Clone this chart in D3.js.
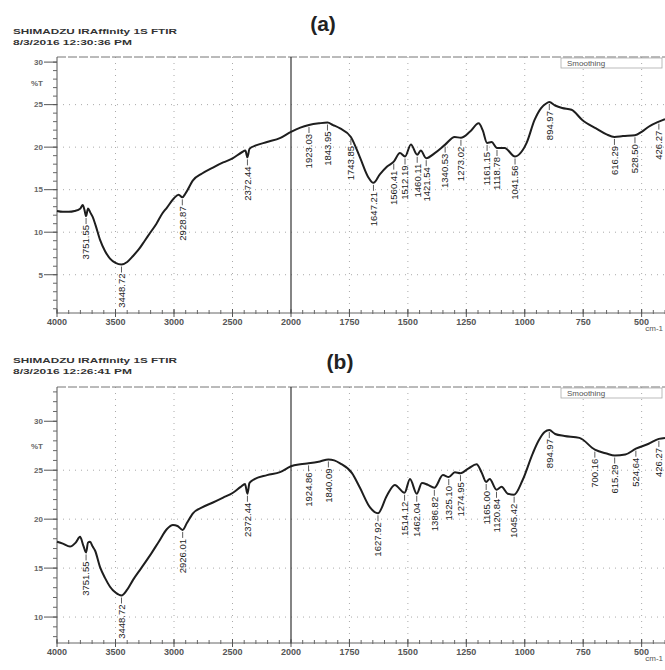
<!DOCTYPE html>
<html>
<head>
<meta charset="utf-8">
<script src="https://cdn.jsdelivr.net/npm/d3@7/dist/d3.min.js"></script>
<style>
body { margin: 0; background: #fff; }
svg text { font-family: "Liberation Sans", Arial, sans-serif; }
</style>
</head>
<body>
<svg id="chart" width="665" height="670"></svg>
<script>
// spectrum (a): [wavenumber cm-1, %T]
var spectrumA = [
    [4000,12.5],[3950,12.4],[3900,12.4],[3850,12.5],[3800,12.8],[3780,13.2],[3765,12.6],[3751.55,11.9],
    [3735,12.8],[3715,12.3],[3695,11.8],[3670,10.8],[3632,9.1],[3590,7.8],[3547,6.9],[3500,6.4],
    [3448.72,6.2],[3400,6.5],[3350,7.2],[3300,8.0],[3250,9.0],[3205,9.9],[3150,11.0],[3100,12.2],
    [3060,12.9],[3000,14.0],[2960,14.4],[2928.87,14.1],[2900,14.6],[2838,16.1],[2760,16.9],[2667,17.6],
    [2580,18.2],[2496,18.7],[2420,19.4],[2390,19.6],[2372.44,18.8],[2355,19.8],[2300,20.2],[2205,20.6],
    [2090,21.1],[2000,21.8],[1960,22.3],[1923.03,22.6],[1880,22.8],[1843.95,22.9],[1820,22.6],[1790,22.2],
    [1743.85,21.2],[1705,18.8],[1670,16.5],[1647.21,15.8],[1620,16.8],[1590,17.7],[1560.41,18.3],[1534,19.3],
    [1512.19,18.9],[1487,20.3],[1460.11,19.1],[1445,19.6],[1421.54,18.7],[1385,19.3],[1340.53,20.3],[1300,21.2],
    [1273.02,21.1],[1235,21.8],[1197,22.8],[1180,22.0],[1161.15,20.5],[1142,20.6],[1118.78,19.9],[1086,19.9],
    [1041.56,18.9],[1010,19.6],[992,20.5],[958,23.2],[930,24.6],[910,25.1],[894.97,25.3],[870,24.9],
    [840,24.6],[800,24.4],[754,23.2],[695,22.2],[650,21.5],[616.29,21.2],[580,21.3],[528.50,21.4],
    [500,21.8],[470,22.4],[426.27,23.0],[400,23.3]
]
var peaksA = [3751.55,3448.72,2928.87,2372.44,1923.03,1843.95,1743.85,1647.21,1560.41,1512.19,1460.11,
    1421.54,1340.53,1273.02,1161.15,1118.78,1041.56,894.97,616.29,528.50,426.27]

// spectrum (b)
var spectrumB = [
    [4000,17.7],[3950,17.5],[3889,17.2],[3840,17.6],[3803,18.2],[3775,17.3],[3751.55,16.6],[3735,17.6],
    [3718,17.7],[3695,17.2],[3675,16.8],[3632,15.1],[3590,14.0],[3547,13.1],[3500,12.5],[3448.72,12.2],
    [3400,12.8],[3350,13.8],[3280,15.0],[3205,16.3],[3130,17.7],[3060,19.0],[3009,19.4],[2970,19.3],
    [2926.01,18.9],[2890,19.6],[2838,20.6],[2760,21.2],[2667,21.7],[2580,22.2],[2496,22.7],[2430,23.3],
    [2393,23.6],[2372.44,22.6],[2355,23.7],[2325,24.0],[2205,24.5],[2094,24.8],[2000,25.4],[1960,25.6],
    [1924.86,25.7],[1876,25.9],[1840.09,26.1],[1815,26.0],[1790,25.7],[1739,24.7],[1705,23.2],[1662,21.2],
    [1627.92,20.6],[1590,22.4],[1556,23.5],[1514.12,22.7],[1491,24.1],[1462.04,22.6],[1440,23.7],[1414,23.5],
    [1386.82,23.2],[1350,24.5],[1325.10,24.3],[1299,24.8],[1274.95,24.7],[1240,25.2],[1206,25.6],[1185,24.8],
    [1165.00,23.8],[1150,24.1],[1120.84,23.0],[1099,23.3],[1073,22.6],[1045.42,22.5],[1009,24.0],[966,26.7],
    [941,28.0],[915,28.9],[894.97,29.1],[870,28.7],[830,28.5],[766,28.3],[700.16,27.1],[650,26.7],
    [615.29,26.5],[570,26.6],[524.64,27.2],[470,27.7],[426.27,28.2],[400,28.3]
]
var peaksB = [3751.55,3448.72,2926.01,2372.44,1924.86,1840.09,1627.92,1514.12,1462.04,1386.82,1325.10,
    1274.95,1165.00,1120.84,1045.42,894.97,700.16,615.29,524.64,426.27]

var xTickValues = [4000,3500,3000,2500,2000,1750,1500,1250,1000,750,500]
var yTicksA = [5,10,15,20,25,30]
var yTicksB = [10,15,20,25,30]
var headerA = ['SHIMADZU IRAffinity 1S FTIR', '8/3/2016 12:30:36 PM']
var headerB = ['SHIMADZU IRAffinity 1S FTIR', '8/3/2016 12:26:41 PM']

var svg = d3.select('#chart')

drawPanel(spectrumA, peaksA, yTicksA, headerA, '(a)', {top: 57, bottom: 313, yMin: 0.5, yMax: 30.6, headY: 34, letterY: 31, letterX: 323})
drawPanel(spectrumB, peaksB, yTicksB, headerB, '(b)', {top: 387, bottom: 643, yMin: 7.35, yMax: 33.5, headY: 363, letterY: 369, letterX: 340})

function drawPanel(spec, peaks, yTicks, header, letter, opt) {
    var left = 57, right = 665
    // wavenumber axis is split at 2000 (scale doubles below it)
    var x = d3.scaleLinear().domain([4000, 2000, 400]).range([left, 291, right])
    var y = d3.scaleLinear().domain([opt.yMin, opt.yMax]).range([opt.bottom, opt.top])

    var g = svg.append('g')

    // header text
    g.append('text').attr('x', 13).attr('y', opt.headY)
        .attr('textLength', 164).attr('lengthAdjust', 'spacingAndGlyphs')
        .style('font-size', '8px').style('font-weight', 'bold').attr('fill', '#333')
        .text(header[0])
    g.append('text').attr('x', 13).attr('y', opt.headY + 11)
        .attr('textLength', 119).attr('lengthAdjust', 'spacingAndGlyphs')
        .style('font-size', '8px').style('font-weight', 'bold').attr('fill', '#333')
        .text(header[1])
    g.append('text').attr('x', opt.letterX).attr('y', opt.letterY)
        .attr('text-anchor', 'middle')
        .style('font-size', '21px').style('font-weight', 'bold').attr('fill', '#222')
        .text(letter)

    // dotted grid
    var gridX = xTickValues.filter(d => d != 4000 && d != 2000)
    g.selectAll('.gx').data(gridX).enter().append('line')
        .attr('x1', d => x(d)).attr('x2', d => x(d))
        .attr('y1', opt.top).attr('y2', opt.bottom)
        .attr('stroke', '#aaa').attr('stroke-dasharray', '1 5')
    g.selectAll('.gy').data(yTicks.filter(d => d < 30)).enter().append('line')
        .attr('x1', left).attr('x2', right)
        .attr('y1', d => y(d)).attr('y2', d => y(d))
        .attr('stroke', '#aaa').attr('stroke-dasharray', '1 5')

    // frame
    g.append('line').attr('x1', left).attr('x2', right).attr('y1', opt.top).attr('y2', opt.top)
        .attr('stroke', '#777').attr('stroke-dasharray', '9 2')
    g.append('line').attr('x1', left).attr('x2', left).attr('y1', opt.top).attr('y2', opt.bottom)
        .attr('stroke', '#555')
    g.append('line').attr('x1', left).attr('x2', right).attr('y1', opt.bottom).attr('y2', opt.bottom)
        .attr('stroke', '#666')
    g.append('line').attr('x1', x(2000)).attr('x2', x(2000)).attr('y1', opt.top).attr('y2', opt.bottom)
        .attr('stroke', '#333').attr('stroke-width', 1.2)

    // Smoothing box
    g.append('rect').attr('x', 561).attr('y', opt.top + 1).attr('width', 101).attr('height', 10)
        .attr('fill', 'none').attr('stroke', '#aaa').attr('stroke-width', 0.8)
    g.append('text').attr('x', 567).attr('y', opt.top + 9)
        .style('font-size', '8px').attr('fill', '#555').text('Smoothing')

    // y axis ticks
    var minorY = d3.range(Math.ceil(opt.yMin), Math.floor(opt.yMax) + 1)
    g.selectAll('.my').data(minorY).enter().append('line')
        .attr('x1', left - 4).attr('x2', left).attr('y1', d => y(d)).attr('y2', d => y(d))
        .attr('stroke', '#666')
    g.selectAll('.ty').data(yTicks).enter().append('line')
        .attr('x1', left - 13).attr('x2', left).attr('y1', d => y(d)).attr('y2', d => y(d))
        .attr('stroke', '#555')
    g.selectAll('.ly').data(yTicks).enter().append('text')
        .attr('x', left - 14).attr('y', d => y(d)).attr('dy', '0.35em')
        .attr('text-anchor', 'end').style('font-size', '8px').style('font-weight', 'bold')
        .attr('fill', '#666').text(d => d)
    g.append('text').attr('x', left - 14).attr('y', y(27.5)).attr('dy', '0.35em')
        .attr('text-anchor', 'end').style('font-size', '8px').style('font-weight', 'bold')
        .attr('fill', '#666').text('%T')

    // x axis ticks
    var minorX = d3.range(4000, 2000, -100).concat(d3.range(2000, 399, -50))
    g.selectAll('.mx').data(minorX).enter().append('line')
        .attr('x1', d => x(d)).attr('x2', d => x(d))
        .attr('y1', opt.bottom - 3).attr('y2', opt.bottom + 1)
        .attr('stroke', '#666')
    g.selectAll('.tx').data(xTickValues).enter().append('line')
        .attr('x1', d => x(d)).attr('x2', d => x(d))
        .attr('y1', opt.bottom - 4).attr('y2', opt.bottom + 4)
        .attr('stroke', '#555')
    g.selectAll('.lx').data(xTickValues).enter().append('text')
        .attr('x', d => x(d)).attr('y', opt.bottom + 12)
        .attr('text-anchor', 'middle').style('font-size', '9px').style('font-weight', 'bold')
        .attr('fill', '#555').text(d => d)
    g.append('text').attr('x', 663).attr('y', opt.bottom + 18)
        .attr('text-anchor', 'end').style('font-size', '8px').attr('fill', '#555').text('cm-1')

    // the spectrum
    var line = d3.line()
        .x(d => x(d[0]))
        .y(d => y(d[1]))
        .curve(d3.curveMonotoneX)
    g.append('path').datum(spec)
        .attr('d', line)
        .attr('fill', 'none').attr('stroke', '#1e1e1e').attr('stroke-width', 2)

    // peak labels
    peaks.forEach(function (p) {
        var px = x(p), py = y(valueAt(spec, p))
        g.append('line').attr('x1', px).attr('x2', px).attr('y1', py + 2).attr('y2', py + 8)
            .attr('stroke', '#333').attr('stroke-width', 0.8)
        g.append('text')
            .attr('transform', 'translate(' + px + ',' + (py + 9) + ') rotate(-90)')
            .attr('text-anchor', 'end').attr('dy', '0.35em')
            .style('font-size', '9.5px').attr('fill', '#222')
            .text(p.toFixed(2))
    })
}

function valueAt(spec, wn) {
    for (var i = 0; i < spec.length - 1; i++) {
        var a = spec[i], b = spec[i + 1]
        if (wn <= a[0] && wn >= b[0]) {
            var t = (a[0] - wn) / (a[0] - b[0])
            return a[1] + t * (b[1] - a[1])
        }
    }
    return spec[spec.length - 1][1]
}
</script>
</body>
</html>
